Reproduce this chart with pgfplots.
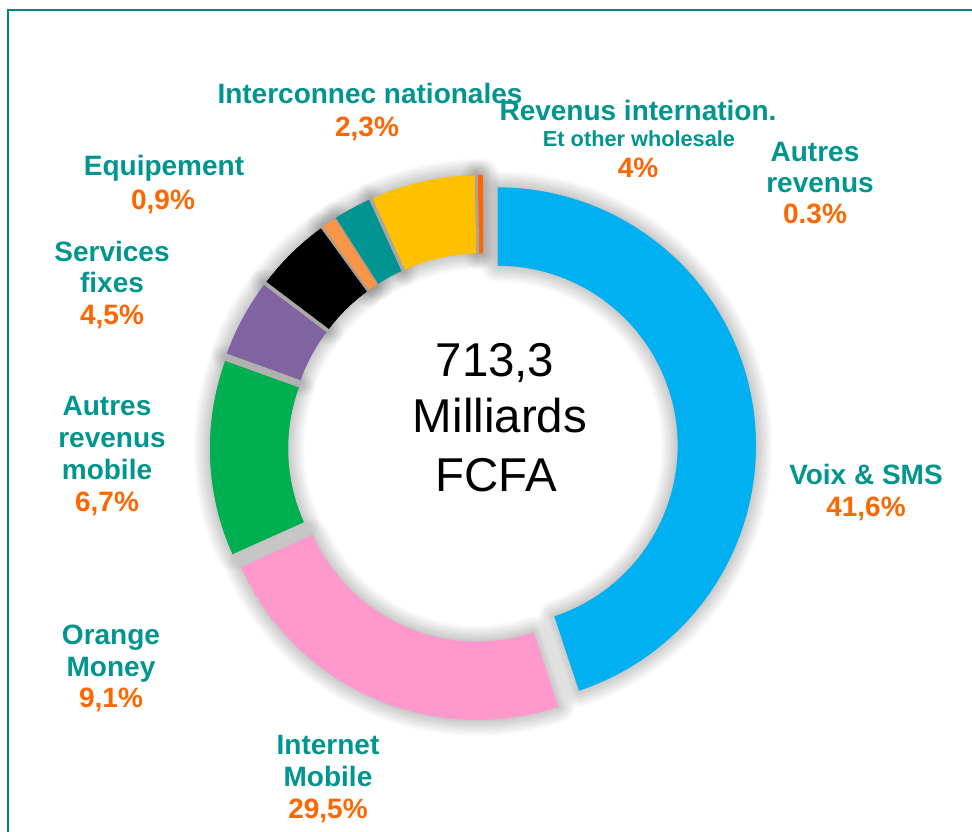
\documentclass[border=0pt]{standalone}
\usepackage{pgfplots}
\pgfplotsset{compat=1.18}
\usepackage{fontspec}
\setmainfont{Liberation Sans}
\usetikzlibrary{shadows.blur}

\definecolor{cvoix}{HTML}{00B0F0}
\definecolor{cinternet}{HTML}{FF99CC}
\definecolor{cmoney}{HTML}{00B050}
\definecolor{cmobile}{HTML}{8064A2}
\definecolor{cfixes}{HTML}{000000}
\definecolor{cequip}{HTML}{F79646}
\definecolor{cinter}{HTML}{009490}
\definecolor{cwhole}{HTML}{FFC000}
\definecolor{cautres}{HTML}{FF6600}
\definecolor{txtteal}{HTML}{00958F}
\definecolor{txtorange}{HTML}{FF6600}
\definecolor{framecol}{HTML}{00857E}

% slice sizes (share of the ring, in %), clockwise from the top
\def\slices{44.9/cvoix, 23.4/cinternet, 12.2/cmoney, 4.8/cmobile, 4.7/cfixes, 0.9/cequip, 2.3/cinter, 6.5/cwhole, 0.3/cautres}

\newcommand\donut[1]{%
  \gdef\curang{90}%
  \foreach \v/\c in \slices {%
    \pgfmathsetmacro\s{\curang}%
    \pgfmathsetmacro\e{\curang-3.6*\v}%
    \pgfmathsetmacro\m{(\s+\e)/2}%
    \pgfmathsetmacro\cx{483+15*cos(\m)}%
    \pgfmathsetmacro\cy{384+15*sin(\m)}%
    \pgfmathsetmacro\xa{\cx+258*cos(\s)}%
    \pgfmathsetmacro\ya{\cy+258*sin(\s)}%
    \pgfmathsetmacro\xb{\cx+180*cos(\e)}%
    \pgfmathsetmacro\yb{\cy+180*sin(\e)}%
    \fill[\c,#1] (axis cs:\xa,\ya) arc[start angle=\s, end angle=\e, radius=258]
      -- (axis cs:\xb,\yb) arc[start angle=\e, end angle=\s, radius=180] -- cycle;
    \xdef\curang{\e}%
  }%
}

\newcommand\labfont{\fontsize{21}{24}\selectfont\bfseries}
\newcommand\smallfont{\fontsize{16.3}{19}\selectfont\bfseries}
\newcommand\bigfont{\fontsize{35.6}{42}\selectfont}

\begin{document}
\begin{tikzpicture}
\begin{axis}[
    width=729pt, height=624pt,
    scale only axis,
    xmin=0, xmax=972,
    ymin=0, ymax=832,
    hide axis,
    clip=false
]
\pgfplotsextra{%
  \donut{blur shadow={shadow xshift=0pt, shadow yshift=0pt, shadow blur radius=13pt, shadow opacity=45, shadow blur steps=12}}
  \donut{}
}

% frame
\draw[framecol, line width=1.9pt] (axis cs:8,0) -- (axis cs:8,822) -- (axis cs:972,822);

% labels
\begin{scope}[every node/.style={anchor=base, inner sep=0pt}]
\node[text=txtteal, font=\labfont] at (axis cs:370,728) {Interconnec nationales};
\node[text=txtorange, font=\labfont] at (axis cs:367,695) {2,3\%};

\node[text=txtteal, font=\labfont] at (axis cs:638,711) {Revenus internation.};
\node[text=txtteal, font=\smallfont] at (axis cs:639,685) {Et other wholesale};
\node[text=txtorange, font=\labfont] at (axis cs:638,654) {4\%};

\node[text=txtteal, font=\labfont] at (axis cs:815,670) {Autres};
\node[text=txtteal, font=\labfont] at (axis cs:820,639) {revenus};
\node[text=txtorange, font=\labfont] at (axis cs:815,608) {0.3\%};

\node[text=txtteal, font=\labfont] at (axis cs:164,656) {Equipement};
\node[text=txtorange, font=\labfont] at (axis cs:163,622) {0,9\%};

\node[text=txtteal, font=\labfont] at (axis cs:112,570) {Services};
\node[text=txtteal, font=\labfont] at (axis cs:112,539) {fixes};
\node[text=txtorange, font=\labfont] at (axis cs:112,507) {4,5\%};

\node[text=txtteal, font=\labfont] at (axis cs:107,416) {Autres};
\node[text=txtteal, font=\labfont] at (axis cs:112,384) {revenus};
\node[text=txtteal, font=\labfont] at (axis cs:107,352) {mobile};
\node[text=txtorange, font=\labfont] at (axis cs:107,320) {6,7\%};

\node[text=txtteal, font=\labfont] at (axis cs:866,347) {Voix \& SMS};
\node[text=txtorange, font=\labfont] at (axis cs:866,315) {41,6\%};

\node[text=txtteal, font=\labfont] at (axis cs:111,187) {Orange};
\node[text=txtteal, font=\labfont] at (axis cs:111,155) {Money};
\node[text=txtorange, font=\labfont] at (axis cs:111,124) {9,1\%};

\node[text=txtteal, font=\labfont] at (axis cs:328,77) {Internet};
\node[text=txtteal, font=\labfont] at (axis cs:328,45) {Mobile};
\node[text=txtorange, font=\labfont] at (axis cs:328,13) {29,5\%};

\node[font=\bigfont] at (axis cs:495,455) {713,3};
\node[font=\bigfont] at (axis cs:500,399) {Milliards};
\node[font=\bigfont] at (axis cs:496,340) {FCFA};
\end{scope}
\end{axis}
\pgfresetboundingbox
\path[use as bounding box] (0,0) rectangle (729pt,624pt);
\end{tikzpicture}
\end{document}
